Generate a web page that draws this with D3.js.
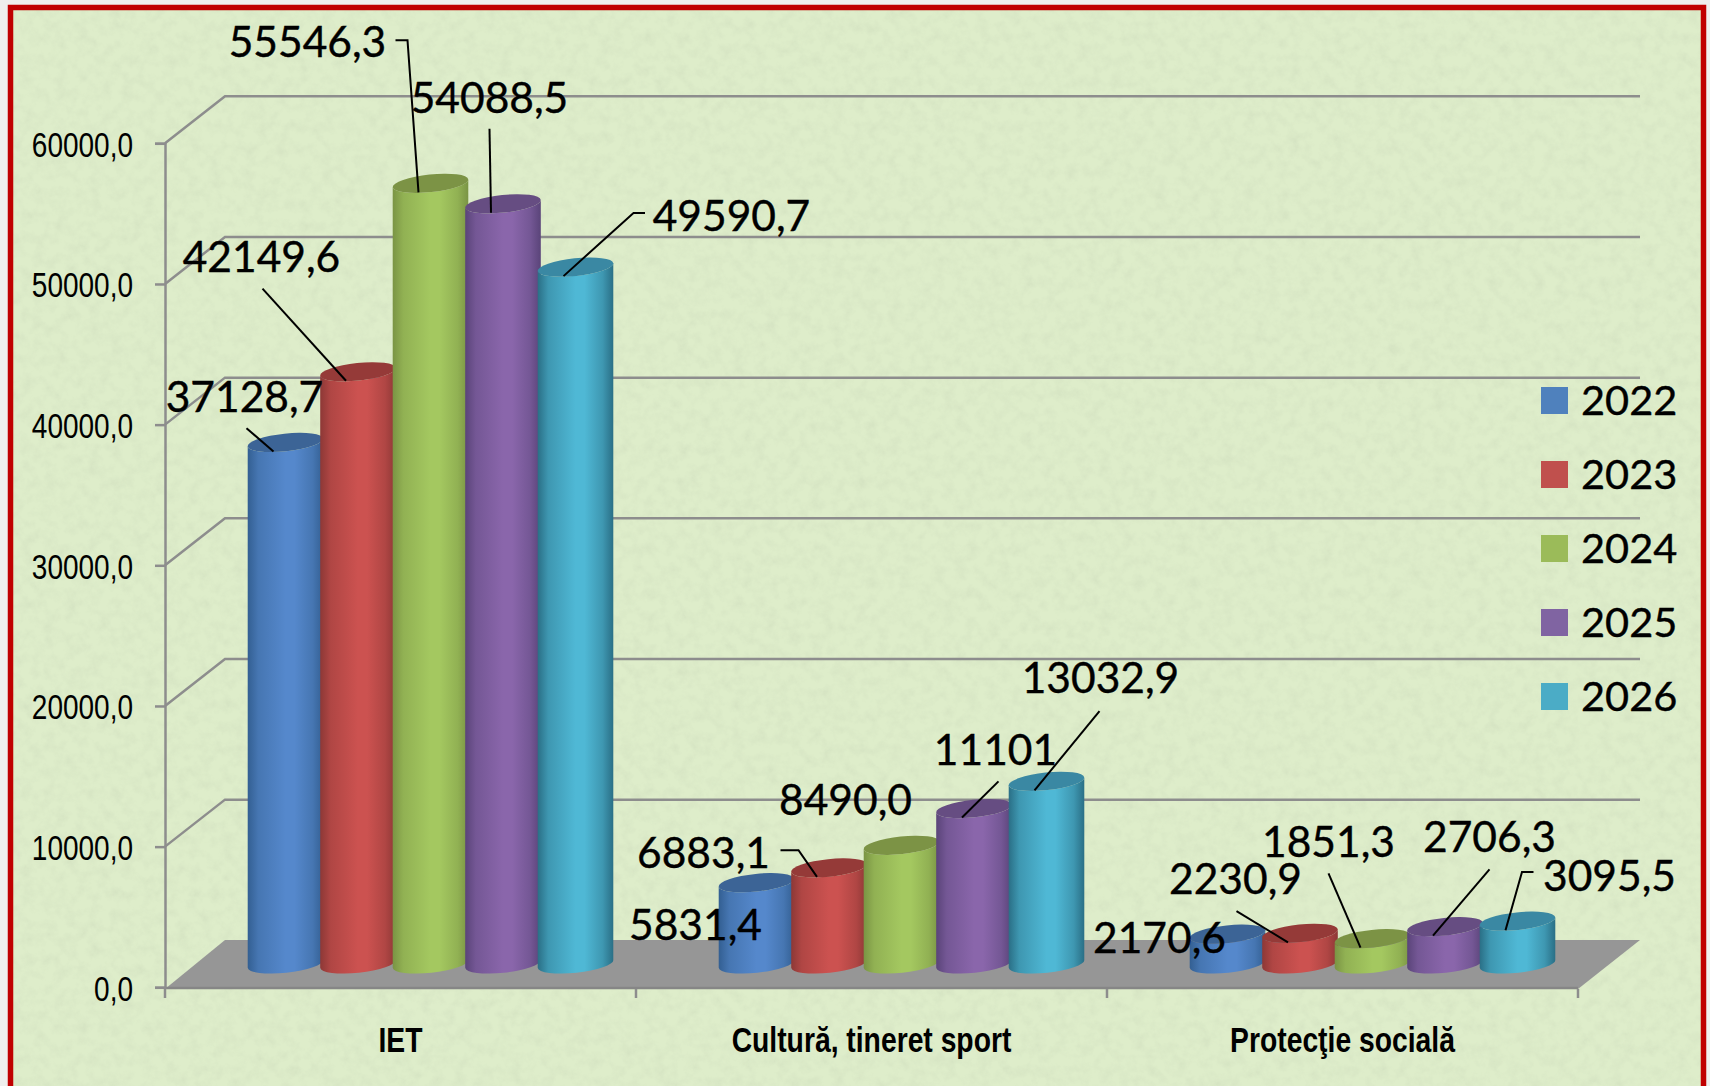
<!DOCTYPE html>
<html>
<head>
<meta charset="utf-8">
<script src="https://cdn.jsdelivr.net/npm/d3@7"></script>
<style>
  html, body { margin: 0; padding: 0; background: #eeeeec; overflow: hidden; }
  svg { display: block; }
</style>
</head>
<body>
<div id="plot"></div>
<script>
// Data
var categories = ["IET", "Cultură, tineret sport", "Protecţie socială"];
var years = ["2022", "2023", "2024", "2025", "2026"];
var values2022 = [37128.7, 5831.4, 2170.6];
var values2023 = [42149.6, 6883.1, 2230.9];
var values2024 = [55546.3, 8490.0, 1851.3];
var values2025 = [54088.5, 11101, 2706.3];
var values2026 = [49590.7, 13032.9, 3095.5];
var labels2022 = ["37128,7", "5831,4", "2170,6"];
var labels2023 = ["42149,6", "6883,1", "2230,9"];
var labels2024 = ["55546,3", "8490,0", "1851,3"];
var labels2025 = ["54088,5", "11101", "2706,3"];
var labels2026 = ["49590,7", "13032,9", "3095,5"];
var yTicks = [0, 10000, 20000, 30000, 40000, 50000, 60000];
var yTickLabels = ["0,0", "10000,0", "20000,0", "30000,0", "40000,0", "50000,0", "60000,0"];

var allValues = [values2022, values2023, values2024, values2025, values2026];
var allLabels = [labels2022, labels2023, labels2024, labels2025, labels2026];

// Label placement, relative to the foot of each leader: [year][category]
var labelPlace = [
  [{dx: -29, dy: -53, leader: [[-27, -22]]}, {dx: -49, dy: 35, leader: []}, {dx: -56, dy: -4, leader: []}],
  [{dx: -84.5, dy: -122, leader: [[-83.5, -91]]}, {dx: -113.5, dy: -22.5, leader: [[-36.5, -25.5], [-18.5, -25.5]]}, {dx: -52.5, dy: -62, leader: [[-51.5, -30]]}],
  [{dx: -111, dy: -149, leader: [[-23, -151], [-11, -151]]}, {dx: -44, dy: -53, leader: []}, {dx: -32, dy: -104, leader: [[-32, -73]]}],
  [{dx: -1.5, dy: -114, leader: [[-1.5, -83]]}, {dx: 33.5, dy: -66, leader: [[36.5, -35]]}, {dx: 56.5, dy: -97, leader: [[56.5, -65]]}],
  [{dx: 168, dy: -59, leader: [[81.5, -62], [70, -62]]}, {dx: 66, dy: -111, leader: [[65, -78]]}, {dx: 104, dy: -53, leader: [[28, -57], [16.5, -57]]}]
];

var legendColors = ["#4f81bd", "#c0504d", "#9bbb59", "#8064a2", "#4bacc6"];
var bodyDark = ["#335f92", "#8d3836", "#7a9444", "#5a4479", "#2a6f86"];
var bodyLight = ["#5588cc", "#cc5250", "#a4c860", "#8a66ab", "#4fb8d5"];
var capColors = ["#3c6496", "#953a38", "#7c9345", "#664d82", "#3a88a3"];

var width = 1710, height = 1086;
var depthX = 60, depthY = -47;
var left = 165, right = 1578, floorY = 989;

var svG = d3.select("#plot")
  .append("svg")
    .attr("width", width)
    .attr("height", height);

var defs = svG.append("defs");

// paper texture
var paper = defs.append("filter")
    .attr("id", "paper")
    .attr("x", 0).attr("y", 0).attr("width", "100%").attr("height", "100%");
paper.append("feTurbulence")
    .attr("type", "fractalNoise")
    .attr("baseFrequency", 0.09)
    .attr("numOctaves", 4)
    .attr("seed", 7);
paper.append("feColorMatrix")
    .attr("values", "0 0 0 0 0.5  0 0 0 0 0.58  0 0 0 0 0.42  0.9 0 0 0 -0.36");

years.forEach(function(yr, i) {
  var g = defs.append("linearGradient").attr("id", "cyl" + i);
  var mid = d3.interpolateRgb(bodyDark[i], bodyLight[i]);
  [[0, bodyDark[i]], [0.14, mid(0.55)], [0.5, bodyLight[i]], [0.62, bodyLight[i]], [0.86, mid(0.55)], [1, bodyDark[i]]].forEach(function(s) {
    g.append("stop").attr("offset", s[0]).attr("stop-color", s[1]);
  });
});

// background and frame
svG.append("rect").attr("width", width).attr("height", height).attr("fill", "#efefed");
svG.append("rect").attr("x", 10).attr("y", 8).attr("width", 1694).attr("height", 1100).attr("fill", "#deedca");
svG.append("rect").attr("x", 10).attr("y", 8).attr("width", 1694).attr("height", 1100)
    .attr("fill", "#ffffff").attr("filter", "url(#paper)").attr("opacity", 0.5);
svG.append("rect").attr("x", 10.5).attr("y", 7.5).attr("width", 1693).attr("height", 1100)
    .attr("fill", "none").attr("stroke", "#c00000").attr("stroke-width", 5.5);

// Scales
var x0 = d3.scaleBand()
    .domain(categories)
    .range([left, right]);
var x1 = d3.scaleBand()
    .domain(years)
    .range([0, 362.5]);
var y = d3.scaleLinear()
    .domain([0, 60000])
    .range([987.3, 143.3]);

var gridColor = "#8d8d8d";

// floor
svG.append("path")
    .attr("d", d3.line()([[left, floorY], [right, floorY], [right + depthX + 2, floorY + depthY - 2], [left + depthX, floorY + depthY - 2]]))
    .attr("fill", "#969696");
svG.append("line")
    .attr("x1", left).attr("x2", right).attr("y1", floorY - 1).attr("y2", floorY - 1)
    .attr("stroke", "#868686").attr("stroke-width", 2.5);

// grid on the back wall, with the slanted run to the front axis
svG.selectAll("path.grid")
  .data(yTicks.slice(1))
  .enter()
  .append("path")
    .attr("class", "grid")
    .attr("d", function(d) {
      return d3.line()([[left, y(d)], [left + depthX, y(d) + depthY], [right + depthX + 2, y(d) + depthY]]);
    })
    .attr("fill", "none")
    .attr("stroke", gridColor)
    .attr("stroke-width", 2.5);

// axes
var yAxis = svG.append("g")
    .attr("transform", "translate(" + left + ",0)")
    .call(d3.axisLeft(y)
      .tickValues(yTicks)
      .tickSize(10)
      .tickFormat(function(d, i) { return yTickLabels[i]; }));
yAxis.selectAll("path, line").attr("stroke", gridColor).attr("stroke-width", 2.5);
yAxis.selectAll("text")
    .attr("x", 0)
    .attr("transform", "translate(-32,2) scale(1,1.22)")
    .attr("font-family", "'Liberation Sans', Arial, sans-serif")
    .attr("font-size", 28)
    .attr("fill", "#000");

var xAxis = svG.append("g")
    .attr("transform", "translate(0," + floorY + ")")
    .call(d3.axisBottom(x0).tickSize(0).tickPadding(0));
xAxis.select(".domain").remove();
xAxis.selectAll("text")
    .attr("y", 0).attr("dy", 0)
    .attr("transform", "translate(0,63) scale(1,1.22)")
    .attr("font-family", "'Liberation Sans', Arial, sans-serif")
    .attr("font-weight", "bold")
    .attr("font-size", 28.3)
    .attr("fill", "#000");

svG.selectAll("line.xtick")
  .data(categories.map(function(c) { return x0(c); }).concat([right]))
  .enter()
  .append("line")
    .attr("class", "xtick")
    .attr("x1", function(d) { return d; })
    .attr("x2", function(d) { return d; })
    .attr("y1", floorY)
    .attr("y2", floorY + 9)
    .attr("stroke", gridColor)
    .attr("stroke-width", 2.5);

// Cylinders
var rx = 38, ry = 8.8, tilt = 6;
var tx = rx * Math.cos(tilt * Math.PI / 180), ty = rx * Math.sin(tilt * Math.PI / 180);
var baseLift = -22.6;

function barX(cat, i) {
  return x0(categories[cat]) + depthX / 2 + (x0.bandwidth() - 362.5) / 2 + x1(years[i]) + x1.bandwidth() / 2;
}

years.forEach(function(yr, i) {
  var g = svG.append("g");
  var rows = categories.map(function(c, k) { return {cat: k, v: allValues[i][k]}; });

  g.selectAll("path.body")
    .data(rows)
    .enter()
    .append("path")
      .attr("class", "body")
      .attr("d", function(d) {
        var cx = barX(d.cat, i), top = y(d.v) + baseLift, bot = y(0) + baseLift - 0.8;
        return "M" + (cx - tx) + "," + (top + ty) +
          "L" + (cx - tx) + "," + (bot + ty) +
          "A" + rx + "," + ry + " " + (-tilt) + " 0 0 " + (cx + tx) + "," + (bot - ty) +
          "L" + (cx + tx) + "," + (top - ty) +
          "A" + rx + "," + ry + " " + (-tilt) + " 0 1 " + (cx - tx) + "," + (top + ty) + "Z";
      })
      .attr("fill", "url(#cyl" + i + ")");

  g.selectAll("ellipse")
    .data(rows)
    .enter()
    .append("ellipse")
      .attr("rx", rx)
      .attr("ry", ry)
      .attr("transform", function(d) {
        return "translate(" + barX(d.cat, i) + "," + (y(d.v) + baseLift) + ") rotate(" + (-tilt) + ")";
      })
      .attr("fill", capColors[i]);
});

// Data labels and leaders go over all the bars
var labelG = svG.append("g");
years.forEach(function(yr, i) {
  categories.forEach(function(c, k) {
    var place = labelPlace[i][k];
    var ax = barX(k, i) - 12, ay = y(allValues[i][k]) - 23.8 + 9;
    if (place.leader.length) {
      var pts = place.leader.map(function(p) { return [ax + p[0], ay + p[1]]; }).concat([[ax, ay + 1.2]]);
      labelG.append("path")
          .attr("d", d3.line()(pts))
          .attr("fill", "none")
          .attr("stroke", "#000")
          .attr("stroke-width", 2);
    }
    labelG.append("text")
        .attr("x", ax + place.dx)
        .attr("y", ay + place.dy)
        .attr("dy", "0.35em")
        .attr("text-anchor", "middle")
        .attr("font-family", "Lato, sans-serif")
        .attr("font-size", 42.5)
        .attr("stroke", "#000")
        .attr("stroke-width", 0.4)
        .attr("fill", "#000")
        .text(allLabels[i][k]);
  });
});

// Legend
var legend = svG.selectAll("g.legend")
  .data(years)
  .enter()
  .append("g")
    .attr("class", "legend")
    .attr("transform", function(d, i) { return "translate(1541," + (387 + i * 74) + ")"; });
legend.append("rect")
    .attr("width", 27)
    .attr("height", 27)
    .attr("fill", function(d, i) { return legendColors[i]; });
legend.append("text")
    .attr("x", 40)
    .attr("y", 13.5)
    .attr("dy", "0.35em")
    .attr("font-family", "Lato, sans-serif")
    .attr("font-size", 41.5)
    .attr("stroke", "#000")
    .attr("stroke-width", 0.4)
    .attr("fill", "#000")
    .text(function(d) { return d; });
</script>
</body>
</html>
